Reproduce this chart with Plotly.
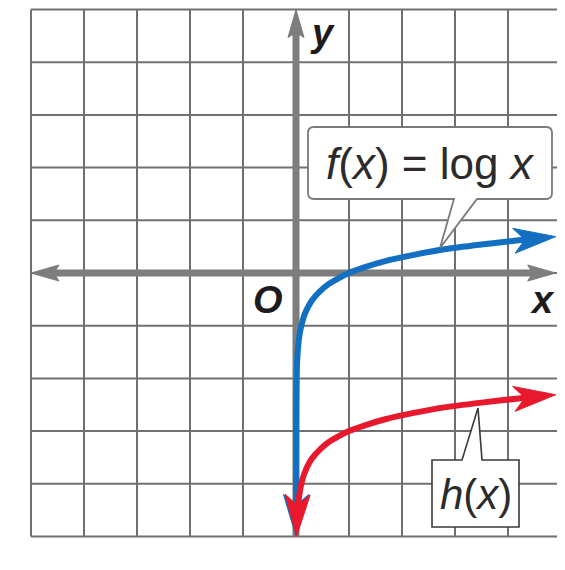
import math
import plotly.graph_objects as go

# ---------------- data ----------------
grid_ticks = [-5, -4, -3, -2, -1, 0, 1, 2, 3, 4, 5]

# f(x) = log x
f_x = [0.00001, 0.0001, 0.001, 0.005, 0.01, 0.02, 0.04, 0.07, 0.1, 0.15, 0.2, 0.3,
       0.45, 0.6, 0.8, 1, 1.3, 1.7, 2.2, 2.8, 3.5, 4.2, 4.9]
f_y = [-5, -4, -3, -2.30, -2, -1.70, -1.40, -1.15, -1, -0.82, -0.70, -0.52,
       -0.35, -0.22, -0.10, 0, 0.11, 0.23, 0.34, 0.45, 0.54, 0.62, 0.69]

# h(x)
h_x = [0.01, 0.015, 0.02, 0.03, 0.05, 0.08, 0.12, 0.2, 0.3, 0.45, 0.6, 0.8, 1,
       1.3, 1.7, 2.2, 2.8, 3.5, 4.2, 4.9]
h_y = [-5, -4.82, -4.70, -4.52, -4.30, -4.10, -3.92, -3.70, -3.52, -3.35, -3.22,
       -3.10, -3.0, -2.89, -2.77, -2.66, -2.55, -2.46, -2.38, -2.31]

axis_x_ends = [-5, 4.9]
axis_y_ends = [-5, 5]

f_label = "<i>f</i>(<i>x</i>) = log <i>x</i>"
h_label = "<i>h</i>(<i>x</i>)"

# ---------------- geometry helpers ----------------
WIN_W, WIN_H = 565, 570
OFF = 8                # default page margin of the html body
W_PX, H_PX = WIN_W - OFF, WIN_H - OFF
OX, OY = 296, 273      # window-pixel position of origin
SX, SY = 53.0, 52.7    # pixels per unit


def to_px(x, y):
    return OX + x * SX, OY - y * SY


def to_data(px, py):
    return (px - OX) / SX, (OY - py) / SY


def arrow_head(tip, prev, L, W, notch):
    tx, ty = to_px(*tip)
    px, py = to_px(*prev)
    dx, dy = tx - px, ty - py
    n = math.hypot(dx, dy)
    dx, dy = dx / n, dy / n
    nx, ny = -dy, dx
    pts = [(tx, ty),
           (tx - L * dx + W * nx, ty - L * dy + W * ny),
           (tx - (L - notch) * dx, ty - (L - notch) * dy),
           (tx - L * dx - W * nx, ty - L * dy - W * ny),
           (tx, ty)]
    xs, ys = zip(*[to_data(a, b) for a, b in pts])
    return list(xs), list(ys)


def trim(xs, ys, at_end, cut):
    pts = list(zip(xs, ys))
    if not at_end:
        pts = pts[::-1]
    tip = pts[-1]
    prev = pts[-2]
    tx, ty = to_px(*tip)
    px, py = to_px(*prev)
    dx, dy = tx - px, ty - py
    n = math.hypot(dx, dy)
    dx, dy = dx / n, dy / n
    keep = [p for p in pts[:-1]
            if math.hypot(to_px(*p)[0] - tx, to_px(*p)[1] - ty) > cut + 2]
    keep.append(to_data(tx - cut * dx, ty - cut * dy))
    if not at_end:
        keep = keep[::-1]
    a, b = zip(*keep)
    return list(a), list(b)


xr = [to_data(OFF, 0)[0], to_data(WIN_W, 0)[0]]
yr = [to_data(0, WIN_H)[1], to_data(0, OFF)[1]]

GRID = "#707070"
AXIS = "#7d7d7d"
BLUE = "#126fc2"
RED = "#e8192c"

fig = go.Figure()

# grid
shapes = []
for t in grid_ticks:
    shapes.append(dict(type="line", xref="x", yref="y", layer="below",
                       x0=t, x1=t, y0=grid_ticks[0], y1=grid_ticks[-1],
                       line=dict(color=GRID, width=2)))
    shapes.append(dict(type="line", xref="x", yref="y", layer="below",
                       x0=grid_ticks[0], x1=grid_ticks[-1], y0=t, y1=t,
                       line=dict(color=GRID, width=2)))

# axes
AL, AW, AN = 28, 8, 5
ax_xs = [axis_x_ends[0], axis_x_ends[1]]
ax_line_x, _ = trim(ax_xs, [0, 0], True, AL - AN)
ax_line_x, _ = trim(ax_line_x, [0] * len(ax_line_x), False, AL - AN)
fig.add_trace(go.Scatter(x=ax_line_x, y=[0] * len(ax_line_x), mode="lines",
                         line=dict(color=AXIS, width=7), hoverinfo="skip"))
ay_x, ay_y = trim([0, 0], axis_y_ends, True, AL - AN)
fig.add_trace(go.Scatter(x=ay_x, y=ay_y, mode="lines",
                         line=dict(color=AXIS, width=7), hoverinfo="skip"))
for tip, prev in [((axis_x_ends[0], 0), (axis_x_ends[1], 0)),
                  ((axis_x_ends[1], 0), (axis_x_ends[0], 0)),
                  ((0, axis_y_ends[1]), (0, axis_y_ends[0]))]:
    xs, ys = arrow_head(tip, prev, AL, AW, AN)
    fig.add_trace(go.Scatter(x=xs, y=ys, mode="lines", fill="toself",
                             fillcolor=AXIS, line=dict(color=AXIS, width=1),
                             hoverinfo="skip"))

# curves
CL, CW, CN = 42, 12.5, 11
for xs, ys, col in [(f_x, f_y, BLUE), (h_x, h_y, RED)]:
    lx, ly = trim(xs, ys, True, CL - CN)
    lx, ly = trim(lx, ly, False, CL - CN)
    fig.add_trace(go.Scatter(x=lx, y=ly, mode="lines",
                             line=dict(color=col, width=6, shape="spline", smoothing=0.6),
                             hoverinfo="skip"))
    for tip, prev in [((xs[-1], ys[-1]), (xs[-2], ys[-2])),
                      ((xs[0], ys[0]), (xs[1], ys[1]))]:
        ax_, ay_ = arrow_head(tip, prev, CL, CW, CN)
        fig.add_trace(go.Scatter(x=ax_, y=ay_, mode="lines", fill="toself",
                                 fillcolor=col, line=dict(color=col, width=1),
                                 hoverinfo="skip"))


def P(px, py):
    x, y = to_data(px, py)
    return f"{x:.4f},{y:.4f}"


# callout for f(x)
l, r, t, b, rad = 308, 552, 127, 199, 6
f_path = ("M" + P(l + rad, t) + " L" + P(r - rad, t) + " Q" + P(r, t) + " " + P(r, t + rad) +
          " L" + P(r, b - rad) + " Q" + P(r, b) + " " + P(r - rad, b) +
          " L" + P(477, b) + " L" + P(440, 248) + " L" + P(454, b) +
          " L" + P(l + rad, b) + " Q" + P(l, b) + " " + P(l, b - rad) +
          " L" + P(l, t + rad) + " Q" + P(l, t) + " " + P(l + rad, t) + " Z")
shapes.append(dict(type="path", xref="x", yref="y", layer="above", path=f_path,
                   fillcolor="white", line=dict(color="#7a7a7a", width=1.8)))

# callout for h(x)
l, r, t, b = 432, 519, 460, 527
h_path = ("M" + P(l, t) + " L" + P(462, t) + " L" + P(478, 408) + " L" + P(482, t) +
          " L" + P(r, t) + " L" + P(r, b) + " L" + P(l, b) + " Z")
shapes.append(dict(type="path", xref="x", yref="y", layer="above", path=h_path,
                   fillcolor="white", line=dict(color="#3a3a3a", width=1.6)))

TXT = "#2b2b2b"
annotations = []
fx, fy = to_data(430, 163)
annotations.append(dict(x=fx, y=fy, xref="x", yref="y", text=f_label, showarrow=False,
                        font=dict(family="Liberation Sans", size=44, color=TXT)))
hx, hy = to_data(476, 494)
annotations.append(dict(x=hx, y=hy, xref="x", yref="y", text=h_label, showarrow=False,
                        font=dict(family="Liberation Sans", size=42, color=TXT)))
for txt, px, py, sz in [("y", 322, 33, 38), ("x", 542, 300, 38), ("O", 268, 300, 38)]:
    x, y = to_data(px, py)
    annotations.append(dict(x=x, y=y, xref="x", yref="y", text=f"<b><i>{txt}</i></b>",
                            showarrow=False,
                            font=dict(family="Liberation Sans", size=sz, color="#1e1b1c")))

fig.update_layout(
    width=W_PX, height=H_PX,
    margin=dict(l=0, r=0, t=0, b=0),
    paper_bgcolor="white", plot_bgcolor="white",
    showlegend=False,
    xaxis=dict(range=xr, visible=False, fixedrange=True),
    yaxis=dict(range=yr, visible=False, fixedrange=True),
    shapes=shapes, annotations=annotations,
)

fig.write_html("out.html")
